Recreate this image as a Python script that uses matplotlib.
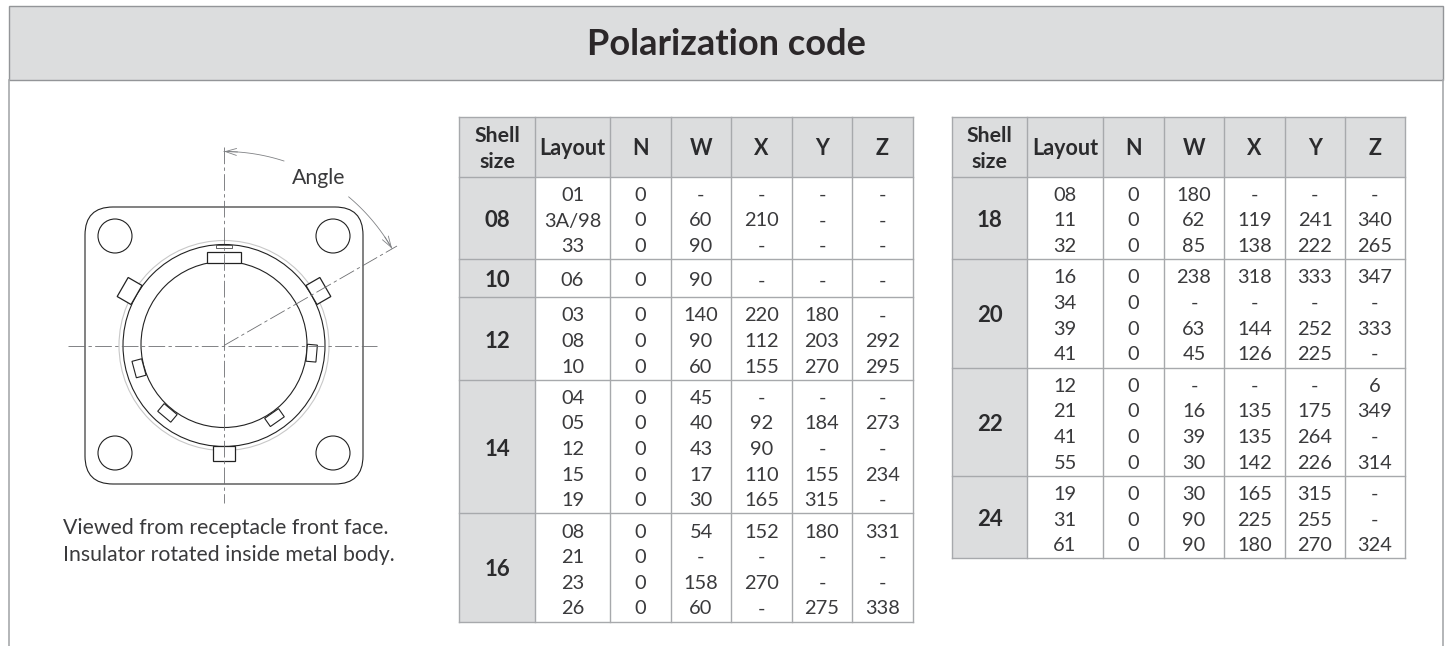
import numpy as np
import matplotlib
matplotlib.use("Agg")
from matplotlib import pyplot as plt
from matplotlib.patches import Circle, FancyBboxPatch, Polygon, Rectangle

TITLE = "Polarization code"
CAPTION = ["Viewed from receptacle front face.", "Insulator rotated inside metal body."]
COLUMNS = ["Layout", "N", "W", "X", "Y", "Z"]

# left table
left_shell = ["08", "10", "12", "14", "16"]
left_layout = [["01", "3A/98", "33"], ["06"], ["03", "08", "10"],
               ["04", "05", "12", "15", "19"], ["08", "21", "23", "26"]]
left_w = [["-", "60", "90"], ["90"], ["140", "90", "60"],
          ["45", "40", "43", "17", "30"], ["54", "-", "158", "60"]]
left_x = [["-", "210", "-"], ["-"], ["220", "112", "155"],
          ["-", "92", "90", "110", "165"], ["152", "-", "270", "-"]]
left_y = [["-", "-", "-"], ["-"], ["180", "203", "270"],
          ["-", "184", "-", "155", "315"], ["180", "-", "-", "275"]]
left_z = [["-", "-", "-"], ["-"], ["-", "292", "295"],
          ["-", "273", "-", "234", "-"], ["331", "-", "-", "338"]]

# right table
right_shell = ["18", "20", "22", "24"]
right_layout = [["08", "11", "32"], ["16", "34", "39", "41"],
                ["12", "21", "41", "55"], ["19", "31", "61"]]
right_w = [["180", "62", "85"], ["238", "-", "63", "45"],
           ["-", "16", "39", "30"], ["30", "90", "90"]]
right_x = [["-", "119", "138"], ["318", "-", "144", "126"],
           ["-", "135", "135", "142"], ["165", "225", "180"]]
right_y = [["-", "241", "222"], ["333", "-", "252", "225"],
           ["-", "175", "264", "226"], ["315", "255", "270"]]
right_z = [["-", "340", "265"], ["347", "-", "333", "-"],
           ["6", "349", "-", "314"], ["-", "-", "324"]]

GREY = "#dcddde"
LINE = "#a7a9ac"
TEXT = "#3a3a3c"
HEAD = "#2b2b2d"
ROW_PITCH = 25.6
BODY_SIZE = 14.4
NOTE_SIZE = 15.3

plt.rcParams["font.family"] = ["Lato", "DejaVu Sans"]

fig = plt.figure(figsize=(14.49, 6.46), dpi=100)
ax = fig.add_axes([0, 0, 1, 1])
ax.set_xlim(0, 1449)
ax.set_ylim(646, 0)
ax.axis("off")


def draw_table(x_edges, y_edges, shell, layout, w, x, y, z):
    ax.add_patch(Rectangle((x_edges[0], y_edges[0]), x_edges[-1] - x_edges[0], y_edges[1] - y_edges[0],
                           fc=GREY, ec="none", zorder=1))
    ax.add_patch(Rectangle((x_edges[0], y_edges[1]), x_edges[1] - x_edges[0], y_edges[-1] - y_edges[1],
                           fc=GREY, ec="none", zorder=1))
    for xe in x_edges:
        ax.plot([xe, xe], [y_edges[0], y_edges[-1]], color=LINE, lw=1.0, zorder=2, solid_capstyle="projecting")
    for ye in y_edges:
        ax.plot([x_edges[0], x_edges[-1]], [ye, ye], color=LINE, lw=1.0, zorder=2, solid_capstyle="projecting")

    centers = (np.array(x_edges[:-1]) + np.array(x_edges[1:])) / 2
    ax.text(centers[0], 142, "Shell", ha="center", va="baseline", fontsize=15.3, fontweight="bold", color=HEAD)
    ax.text(centers[0], 167.5, "size", ha="center", va="baseline", fontsize=15.3, fontweight="bold", color=HEAD)
    for cx, name in zip(centers[1:], COLUMNS):
        ax.text(cx, 155, name, ha="center", va="baseline", fontsize=15.5, fontweight="bold", color=HEAD)

    for g, label in enumerate(shell):
        mid = (y_edges[g + 1] + y_edges[g + 2]) / 2 + 1.5
        ax.text(centers[0], mid + 7.5, label, ha="center", va="baseline", fontsize=16, fontweight="bold", color=HEAD)
        n = len(layout[g])
        for i in range(n):
            row_y = mid + (i - (n - 1) / 2) * ROW_PITCH + 7
            row = [layout[g][i], "0", w[g][i], x[g][i], y[g][i], z[g][i]]
            for cx, val in zip(centers[1:], row):
                ax.text(cx, row_y, val, ha="center", va="baseline", fontsize=BODY_SIZE, color=TEXT)


def radial_key(angle, r0, r1, width, lw=1.0):
    # rectangle pointing out from the centre, angle in degrees from +x, y up
    a = np.radians(angle)
    u = np.array([np.cos(a), -np.sin(a)])
    v = np.array([np.sin(a), np.cos(a)])
    c = np.array([CX, CY])
    pts = [c + u * r0 - v * width / 2, c + u * r1 - v * width / 2,
           c + u * r1 + v * width / 2, c + u * r0 + v * width / 2]
    ax.add_patch(Polygon(pts, closed=True, fc="white", ec="#222222", lw=lw, zorder=6))


def arc_points(a0, a1, r):
    t = np.radians(np.linspace(a0, a1, 40))
    return CX + r * np.cos(t), CY - r * np.sin(t)


# panel frame and header
ax.add_patch(Rectangle((8.5, 5.5), 1434.5, 74, fc=GREY, ec="#939598", lw=1.0, zorder=1))
ax.plot([8.5, 8.5], [79.5, 646], color="#a7a9ac", lw=1.2)
ax.plot([1443, 1443], [79.5, 646], color="#a7a9ac", lw=1.2)
ax.text(726, 55, TITLE, ha="center", va="baseline", fontsize=26, fontweight="bold", color="#2b2729")

draw_table([459, 535, 610, 671, 731, 792, 852, 913], [117, 177, 259, 297, 380, 513, 622],
           left_shell, left_layout, left_w, left_x, left_y, left_z)
draw_table([952, 1027, 1103, 1164, 1224, 1285, 1345, 1405], [117, 177, 259, 367.5, 476, 558],
           right_shell, right_layout, right_w, right_x, right_y, right_z)

# connector drawing
CX, CY = 224, 345.5
ax.add_patch(FancyBboxPatch((85 + 28, 207 + 28), 278 - 56, 277 - 56, boxstyle="round,pad=28,rounding_size=28",
                            fc="white", ec="#222222", lw=0.8, zorder=3))
for hx in (115, 333):
    for hy in (236, 453):
        ax.add_patch(Circle((hx, hy), 17, fc="white", ec="#222222", lw=0.8, zorder=4))
ax.add_patch(Circle((CX, CY), 105, fc="none", ec="#c8c8c8", lw=0.8, zorder=4))
ax.add_patch(Circle((CX, CY), 101, fc="none", ec="#222222", lw=0.8, zorder=5))
ax.add_patch(Circle((CX, CY - 1), 83, fc="none", ec="#222222", lw=0.8, zorder=5))

radial_key(90, 83, 94, 34, lw=0.9)
radial_key(90, 98, 101, 16, lw=0.5)
radial_key(-90, 100, 115, 22, lw=0.9)
radial_key(30, 101, 117, 22, lw=0.9)
radial_key(150, 101, 117, 22, lw=0.9)
radial_key(-5, 83, 93, 17, lw=0.8)
radial_key(195, 83, 93, 17, lw=0.8)
radial_key(230, 83, 93, 17, lw=0.8)
radial_key(-55, 83, 93, 17, lw=0.8)

dash = (0, (20, 4, 4, 4))
center_kw = dict(color="#6d6e71", lw=0.6, linestyle=dash, zorder=7)
ax.plot([CX, CX], [147, 503], **center_kw)
ax.plot([68, 377], [CY, CY], **center_kw)
ax.plot([CX, 397], [CY, 246], **center_kw)

# angle arcs
ax.plot(*arc_points(72, 90, 194), color="#808285", lw=0.6, zorder=7)
ax.plot(*arc_points(30, 50, 194), color="#808285", lw=0.6, zorder=7)
for a_tail, a_head in ((86, 90), (34, 30)):
    xt, yt = arc_points(a_tail, a_tail, 194)
    xh, yh = arc_points(a_head, a_head, 194)
    ax.annotate("", xy=(xh[0], yh[0]), xytext=(xt[0], yt[0]), zorder=7,
                arrowprops=dict(arrowstyle="->,head_length=0.8,head_width=0.25", color="#808285", lw=0.6,
                                shrinkA=0, shrinkB=0))
ax.text(319, 184, "Angle", ha="center", va="baseline", fontsize=NOTE_SIZE, color=TEXT)

ax.text(63, 534, CAPTION[0], ha="left", va="baseline", fontsize=NOTE_SIZE, color=TEXT)
ax.text(63, 561, CAPTION[1], ha="left", va="baseline", fontsize=NOTE_SIZE, color=TEXT)

fig.savefig("out.png", dpi=100)
